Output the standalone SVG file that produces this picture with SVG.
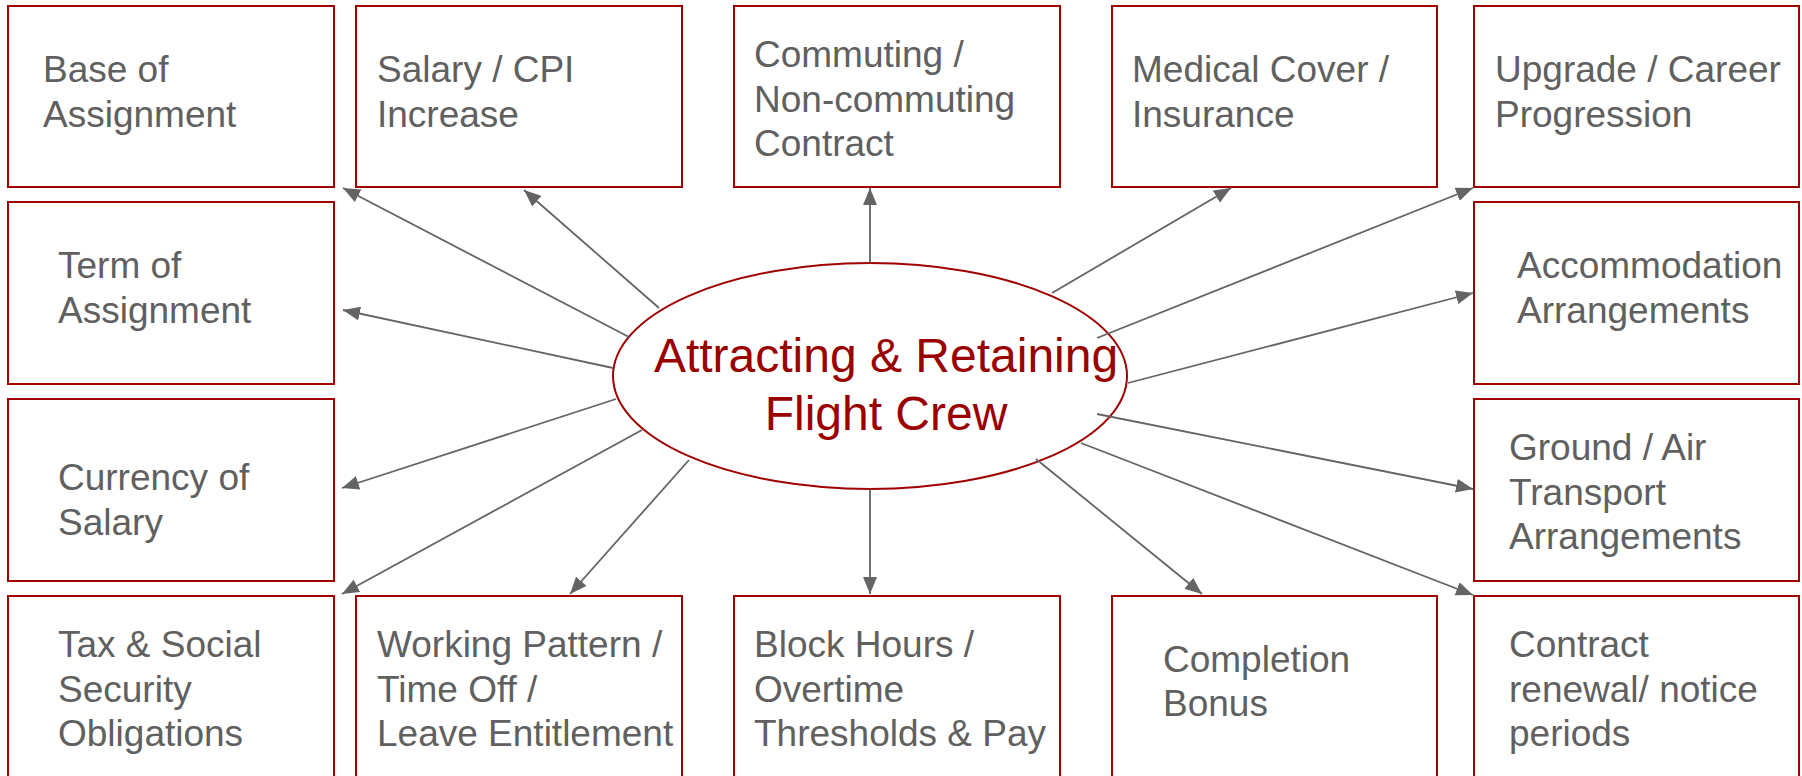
<svg xmlns="http://www.w3.org/2000/svg" width="1802" height="776" viewBox="0 0 1802 776">
  <style>
    .box { fill: #ffffff; stroke: #a00000; stroke-width: 2; }
    .lbl { font-family: "Liberation Sans", Arial, sans-serif; font-size: 37px; fill: #606060; }
    .hub { fill: #ffffff; stroke: #a00000; stroke-width: 2; }
    .hubtxt { font-family: "Liberation Sans", Arial, sans-serif; font-size: 48px; fill: #9b0000; text-anchor: middle; }
    .conn { stroke: #646464; stroke-width: 1.8; fill: none; marker-end: url(#arrow); }
  </style>
  <defs>
    <marker id="arrow" markerUnits="userSpaceOnUse" markerWidth="18" markerHeight="14" refX="17" refY="7" orient="auto">
      <path d="M0,0 L17,7 L0,14 z" fill="#646464"/>
    </marker>
  </defs>
  <rect width="1802" height="776" fill="#ffffff"/>

  <!-- top row -->
  <g id="base-of-assignment">
    <rect class="box" x="8" y="6" width="326" height="181"/>
    <text class="lbl" x="43" y="82">Base of</text>
    <text class="lbl" x="43" y="127">Assignment</text>
  </g>
  <g id="salary-cpi">
    <rect class="box" x="356" y="6" width="326" height="181"/>
    <text class="lbl" x="377" y="82">Salary / CPI</text>
    <text class="lbl" x="377" y="127">Increase</text>
  </g>
  <g id="commuting">
    <rect class="box" x="734" y="6" width="326" height="181"/>
    <text class="lbl" x="754" y="67">Commuting /</text>
    <text class="lbl" x="754" y="112">Non-commuting</text>
    <text class="lbl" x="754" y="156">Contract</text>
  </g>
  <g id="medical-cover">
    <rect class="box" x="1112" y="6" width="325" height="181"/>
    <text class="lbl" x="1132" y="82">Medical Cover /</text>
    <text class="lbl" x="1132" y="127">Insurance</text>
  </g>
  <g id="upgrade-career">
    <rect class="box" x="1474" y="6" width="325" height="181"/>
    <text class="lbl" x="1495" y="82">Upgrade / Career</text>
    <text class="lbl" x="1495" y="127">Progression</text>
  </g>

  <!-- second row -->
  <g id="term-of-assignment">
    <rect class="box" x="8" y="202" width="326" height="182"/>
    <text class="lbl" x="58" y="278">Term of</text>
    <text class="lbl" x="58" y="323">Assignment</text>
  </g>
  <g id="accommodation">
    <rect class="box" x="1474" y="202" width="325" height="182"/>
    <text class="lbl" x="1517" y="278">Accommodation</text>
    <text class="lbl" x="1517" y="323">Arrangements</text>
  </g>

  <!-- third row -->
  <g id="currency-of-salary">
    <rect class="box" x="8" y="399" width="326" height="182"/>
    <text class="lbl" x="58" y="490">Currency of</text>
    <text class="lbl" x="58" y="535">Salary</text>
  </g>
  <g id="ground-air-transport">
    <rect class="box" x="1474" y="399" width="325" height="182"/>
    <text class="lbl" x="1509" y="460">Ground / Air</text>
    <text class="lbl" x="1509" y="505">Transport</text>
    <text class="lbl" x="1509" y="549">Arrangements</text>
  </g>

  <!-- bottom row -->
  <g id="tax-social-security">
    <rect class="box" x="8" y="596" width="326" height="182"/>
    <text class="lbl" x="58" y="657">Tax &amp; Social</text>
    <text class="lbl" x="58" y="702">Security</text>
    <text class="lbl" x="58" y="746">Obligations</text>
  </g>
  <g id="working-pattern">
    <rect class="box" x="356" y="596" width="326" height="182"/>
    <text class="lbl" x="377" y="657">Working Pattern /</text>
    <text class="lbl" x="377" y="702">Time Off /</text>
    <text class="lbl" x="377" y="746">Leave Entitlement</text>
  </g>
  <g id="block-hours">
    <rect class="box" x="734" y="596" width="326" height="182"/>
    <text class="lbl" x="754" y="657">Block Hours /</text>
    <text class="lbl" x="754" y="702">Overtime</text>
    <text class="lbl" x="754" y="746">Thresholds &amp; Pay</text>
  </g>
  <g id="completion-bonus">
    <rect class="box" x="1112" y="596" width="325" height="182"/>
    <text class="lbl" x="1163" y="672">Completion</text>
    <text class="lbl" x="1163" y="716">Bonus</text>
  </g>
  <g id="contract-renewal">
    <rect class="box" x="1474" y="596" width="325" height="182"/>
    <text class="lbl" x="1509" y="657">Contract</text>
    <text class="lbl" x="1509" y="702">renewal/ notice</text>
    <text class="lbl" x="1509" y="746">periods</text>
  </g>

  <!-- central hub -->
  <g id="hub">
    <ellipse class="hub" cx="870" cy="376" rx="257" ry="113"/>
    <text class="hubtxt" x="886" y="372">Attracting &amp; Retaining</text>
    <text class="hubtxt" x="886" y="430">Flight Crew</text>
  </g>

  <!-- connectors radiating from the hub -->
  <g id="connectors">
    <line class="conn" x1="629" y1="337" x2="343" y2="188"/>
    <line class="conn" x1="659" y1="308" x2="524" y2="190"/>
    <line class="conn" x1="870" y1="263" x2="870" y2="188"/>
    <line class="conn" x1="1052" y1="293" x2="1231" y2="188"/>
    <line class="conn" x1="1097" y1="338" x2="1473" y2="188"/>
    <line class="conn" x1="613" y1="368" x2="343" y2="310"/>
    <line class="conn" x1="1128" y1="383" x2="1473" y2="293"/>
    <line class="conn" x1="616" y1="399" x2="342" y2="488"/>
    <line class="conn" x1="1097" y1="414" x2="1473" y2="489"/>
    <line class="conn" x1="642" y1="430" x2="342" y2="594"/>
    <line class="conn" x1="689" y1="460" x2="570" y2="594"/>
    <line class="conn" x1="870" y1="489" x2="870" y2="594"/>
    <line class="conn" x1="1036" y1="459" x2="1202" y2="594"/>
    <line class="conn" x1="1081" y1="443" x2="1473" y2="595"/>
  </g>
</svg>
